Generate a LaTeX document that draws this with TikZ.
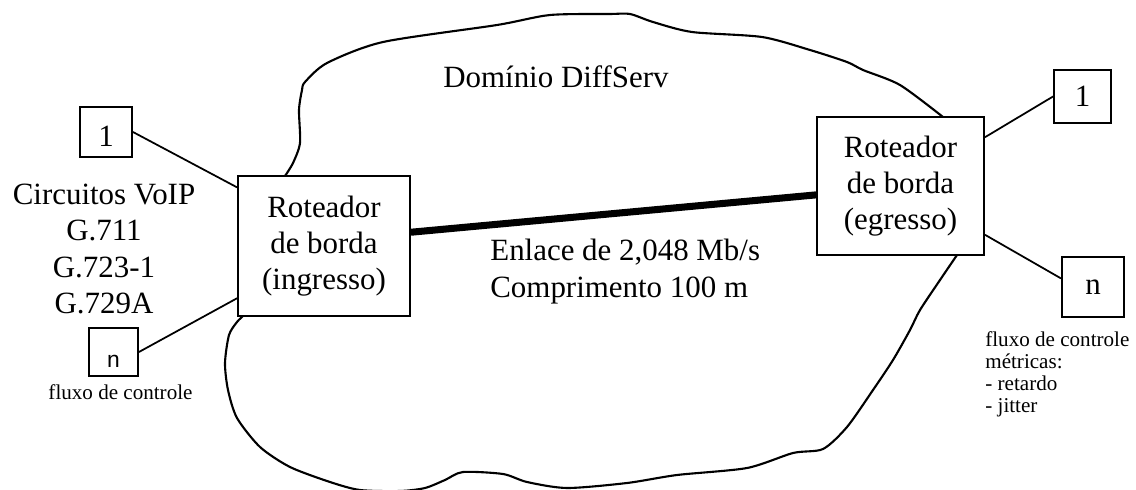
\documentclass[tikz,border=0pt]{standalone}
\usepackage{fontspec}
\setmainfont{Liberation Serif}
\setsansfont{Liberation Sans}
\usepackage{tikz}
\usetikzlibrary{positioning}
\newcommand{\bigtxt}{\fontsize{17.6}{20.6}\selectfont}
\newcommand{\smalltxt}{\fontsize{12}{12.5}\selectfont}

\begin{document}
\begin{tikzpicture}[x=0.02cm,y=-0.02cm,
  router/.style={draw,line width=1.1pt,inner sep=0pt,align=center,font=\bigtxt},
  term/.style={draw,line width=1.1pt,inner sep=0pt,font=\bigtxt},
  wire/.style={line width=1pt},
  cloudline/.style={line width=1.2pt,line join=round}]
  \useasboundingbox (0,0) rectangle (1136,490);
  % edge routers
  \node[router,minimum width=3.44cm,minimum height=2.8cm] (ing) at (324,246){Roteador\\de borda\\(ingresso)};
  \node[router,minimum width=3.34cm,minimum height=2.76cm] (egr) at (900.5,186){Roteador\\de borda\\(egresso)};
  % flows
  \node[term,minimum width=1.04cm,minimum height=1cm,text height=0.6cm] (l1) at (106,132){1};
  \node[term,minimum width=0.98cm,minimum height=0.96cm,text height=0.6cm,font=\sffamily\fontsize{13}{13}\selectfont] (ln) at (113.5,352){n};
  \node[term,minimum width=1.14cm,minimum height=1.06cm] (r1) at (1082.5,96.5){1};
  \node[term,minimum width=1.24cm,minimum height=1.2cm] (rn) at (1093,287){n};
  \draw[wire] (l1.east)--(ing.146.5);
  \draw[wire] (ln.east)--(ing.211);
  \draw[wire] (egr.30)--(r1.west);
  \draw[wire] (egr.-30)--(rn.165);
  % link
  \draw[line width=4pt] (ing.9)--(egr.186);
  % domain boundary
  \draw[cloudline] plot[smooth,tension=0.45] coordinates {(285,176) (293,163) (300,143) (299,110) (302,90) (305,82) (327,63) (383,42) (497,25) (550,15) (610,14) (630,14) (653,22) (692,32) (762,37) (810,50) (847,62) (863,70) (900,85) (943,117)};
  \draw[cloudline] plot[smooth,tension=0.45] coordinates {(957,255) (940,280) (920,310) (910,330) (893,360) (873,390) (847,427) (823,449) (793,453) (747,468) (677,475) (627,483) (567,488) (527,482) (503,474) (463,472) (445,480) (425,488) (400,491) (360,490) (330,482) (290,467) (260,447) (237,418) (228,390) (225,363) (229,335) (237,322) (243,316)};
  % labels
  \node[font=\bigtxt,anchor=base] (dom) at (556,87){Domínio DiffServ};
  \node[font=\bigtxt,align=center,inner sep=0pt] (codec) at (104,249){Circuitos VoIP\\G.711\\G.723-1\\G.729A};
  \node[font=\bigtxt,align=left,inner sep=0pt,anchor=north west] (link) at (490,239){Enlace de 2,048 Mb/s\\Comprimento 100 m};
  \node[font=\smalltxt,anchor=base] (ctl) at (120.5,399){fluxo de controle};
  \node[font=\smalltxt,align=left,inner sep=0pt,anchor=north west] (met) at (985,331){fluxo de controle\\métricas:\\- retardo\\- jitter};
\end{tikzpicture}
\end{document}
